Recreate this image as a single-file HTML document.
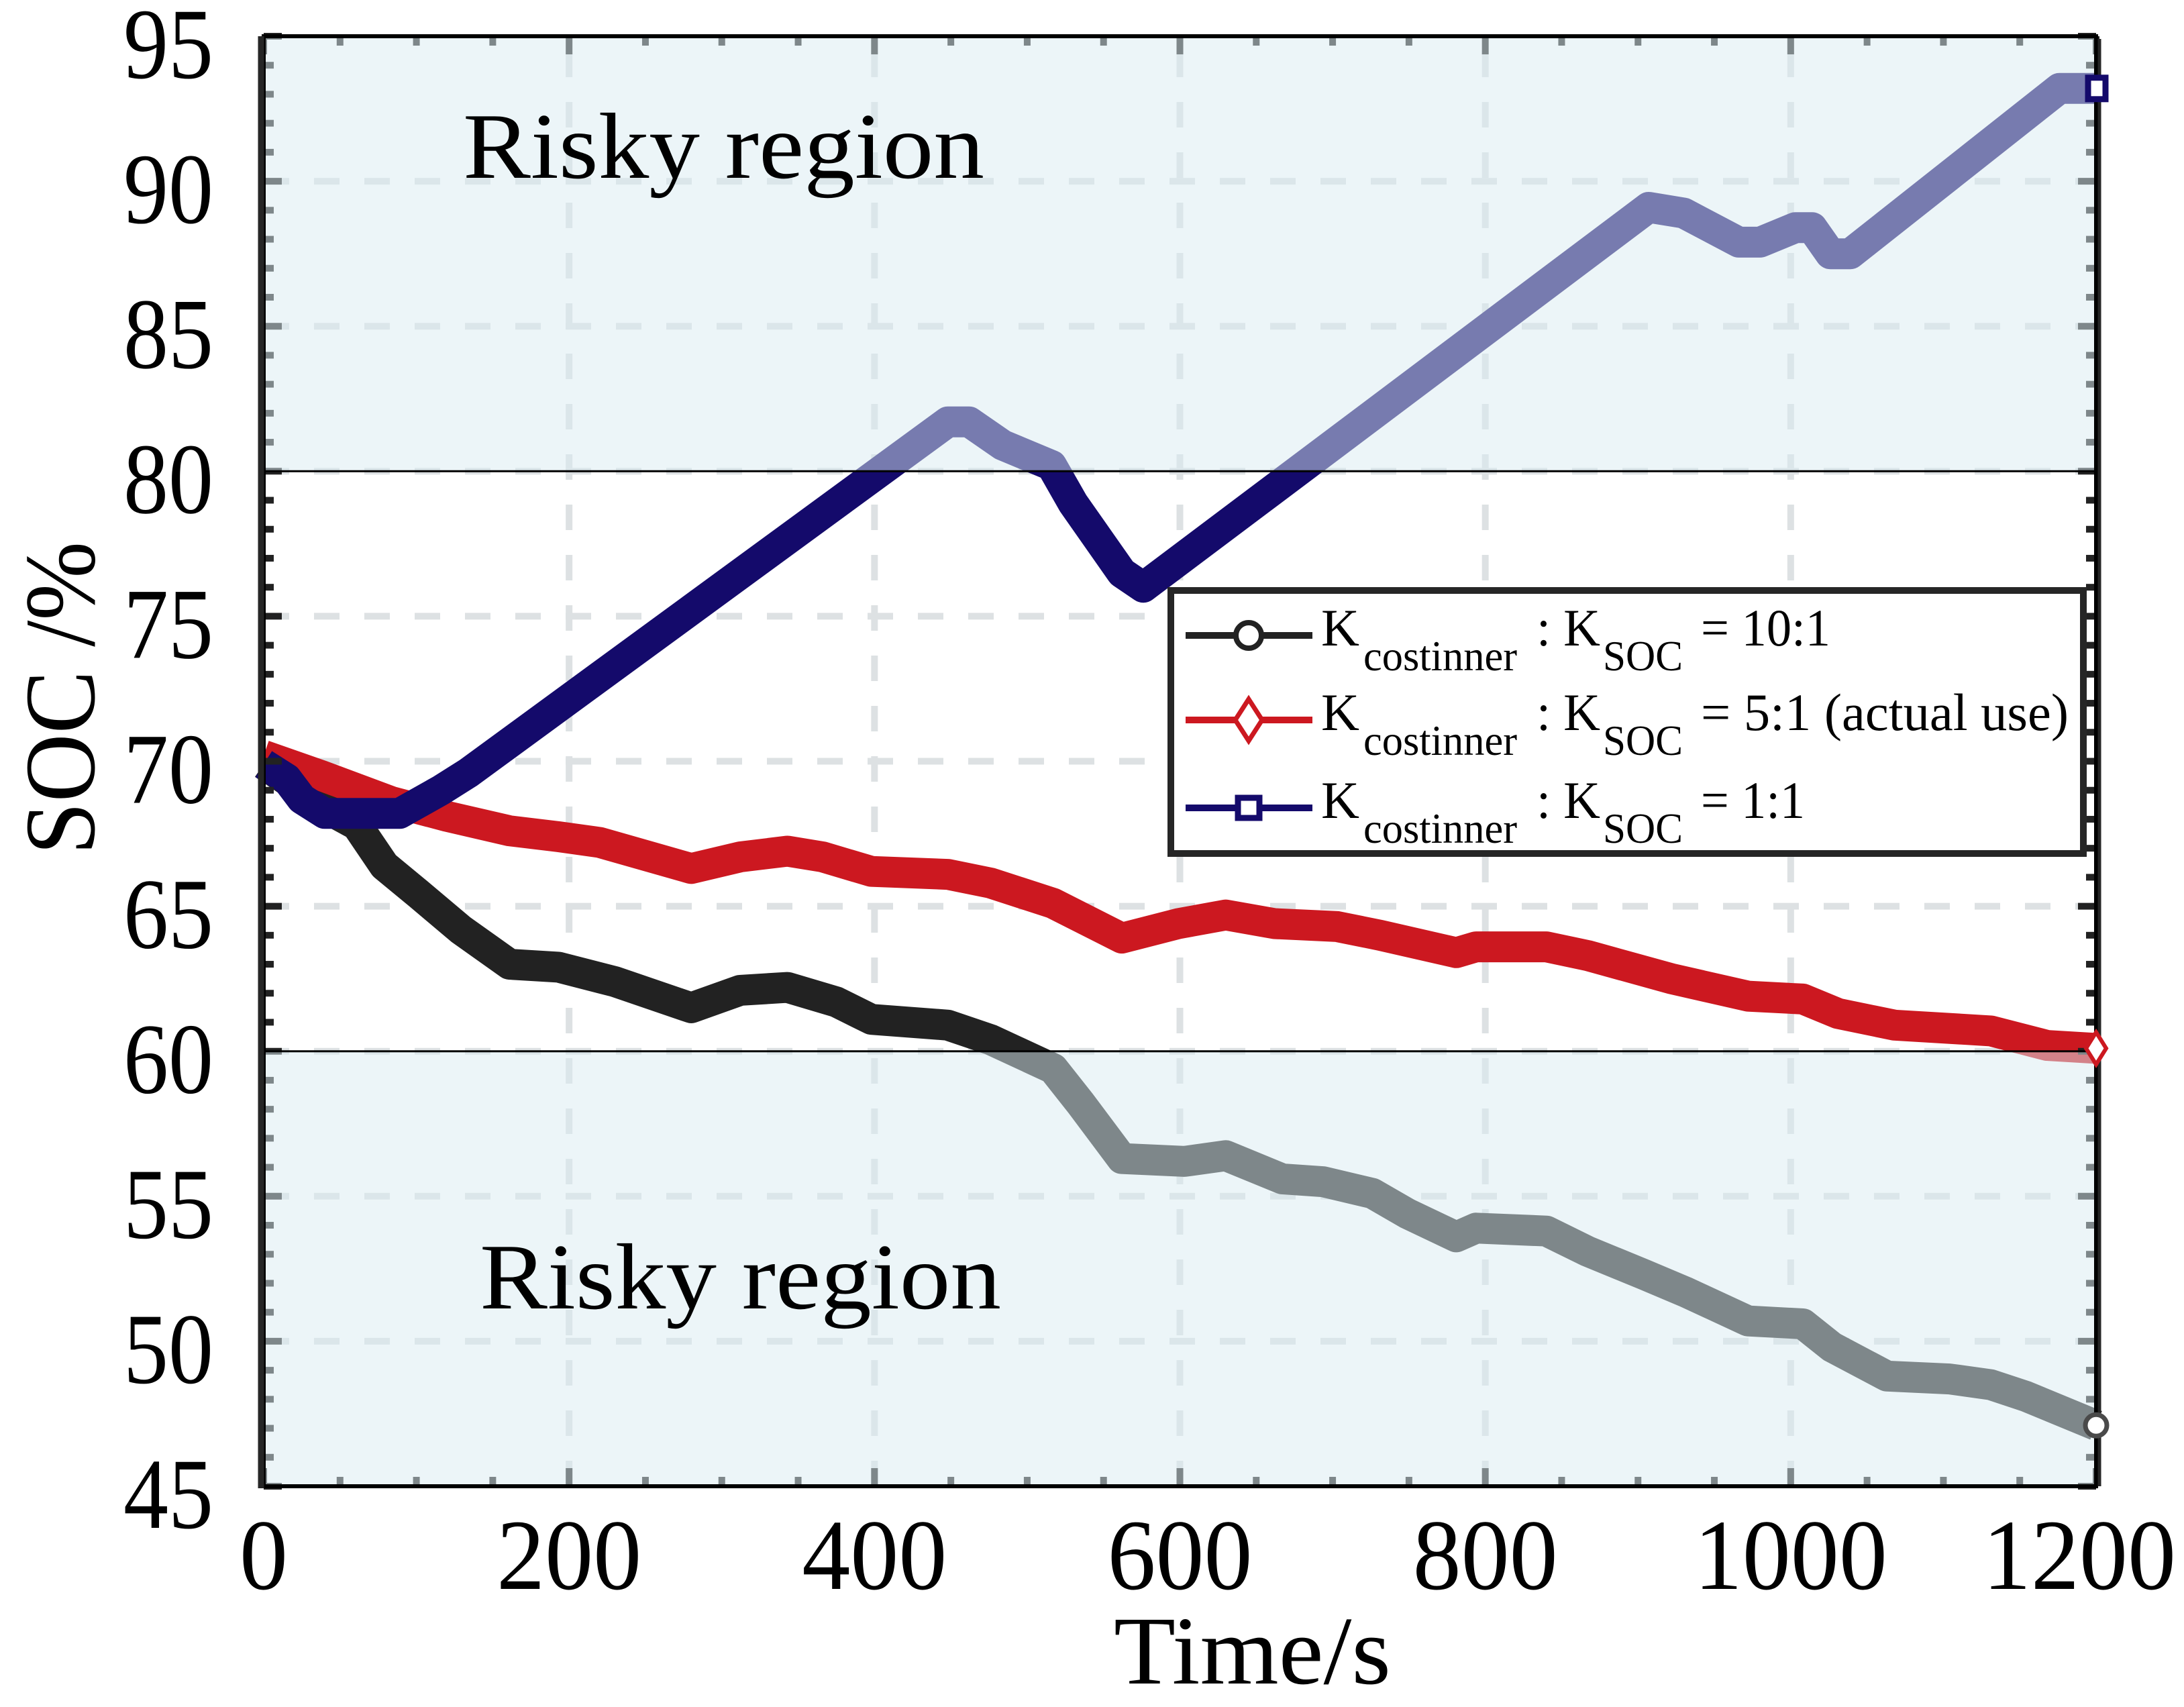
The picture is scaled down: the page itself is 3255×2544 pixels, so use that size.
<!DOCTYPE html>
<html><head><meta charset="utf-8"><style>
html,body{margin:0;padding:0;background:#fff}
svg{display:block}
text{font-family:"Liberation Serif",serif;fill:#000}
</style></head><body>
<svg id="chart" width="3255" height="2544" viewBox="0 0 3255 2544" xmlns="http://www.w3.org/2000/svg">
<rect width="3255" height="2544" fill="#fff"/>
<g id="grid"></g>
<g id="series"></g>
<g id="ticks"></g>
<g id="regions"></g>
<g id="frame"></g>
<g id="markers"></g>
<g id="labels"></g>
<text x="690" y="265" font-size="140" textLength="777" lengthAdjust="spacingAndGlyphs">Risky region</text>
<text x="715" y="1950" font-size="140" textLength="777" lengthAdjust="spacingAndGlyphs">Risky region</text>
<text transform="translate(140,1274) rotate(-90)" x="0" y="0" font-size="150" textLength="467" lengthAdjust="spacingAndGlyphs">SOC /%</text>
<text x="1660" y="2509" font-size="145" textLength="413" lengthAdjust="spacingAndGlyphs">Time/s</text>
<g id="legend">
<rect x="1745" y="880" width="1360" height="392" fill="#fff" stroke="#262626" stroke-width="10"/>
</g>
</svg>
<script>
const xTicks=[0,200,400,600,800,1000,1200];
const yTicks=[45,50,55,60,65,70,75,80,85,90,95];
const riskyLow=60, riskyHigh=80;
const tBlue=[0,15,25,40,61,89,116,134,448,462,484,516,530,562,576,907,930,966,980,1003,1014,1026,1039,1176,1200];
const sBlue=[69.9,69.4,68.7,68.2,68.2,68.2,69.0,69.6,81.7,81.7,80.9,80.2,78.9,76.5,76.0,89.1,88.9,87.9,87.9,88.4,88.4,87.5,87.5,93.2,93.2];
const tBlack=[0,47,61,79,102,129,161,193,230,280,312,343,375,398,448,476,517,535,562,603,630,667,694,726,749,781,794,840,867,904,931,972,1008,1027,1063,1104,1131,1154,1200];
const sBlack=[69.9,68.2,67.8,66.4,65.4,64.2,63.0,62.9,62.4,61.5,62.1,62.2,61.7,61.1,60.9,60.4,59.4,58.2,56.3,56.2,56.4,55.6,55.5,55.1,54.4,53.6,53.9,53.8,53.1,52.3,51.7,50.7,50.6,49.8,48.8,48.7,48.5,48.1,47.1];
const tRed=[0,38,84,120,161,193,220,280,312,343,366,398,448,476,517,562,599,630,662,703,731,781,794,840,867,922,972,1008,1031,1068,1131,1168,1200];
const sRed=[70.2,69.5,68.6,68.1,67.6,67.4,67.2,66.3,66.7,66.9,66.7,66.2,66.1,65.8,65.1,63.9,64.4,64.7,64.4,64.3,64.0,63.4,63.6,63.6,63.3,62.5,61.9,61.8,61.3,60.9,60.7,60.2,60.1];

const X0=393,X1=3124,Y0=2215,Y1=54,XMIN=0,XMAX=1200,YMIN=45,YMAX=95;
const sx=t=>X0+(t-XMIN)/(XMAX-XMIN)*(X1-X0);
const sy=v=>Y0-(v-YMIN)/(YMAX-YMIN)*(Y0-Y1);
const NS='http://www.w3.org/2000/svg';
function mk(tag,parent,attrs){const e=document.createElementNS(NS,tag);for(const k in attrs)e.setAttribute(k,attrs[k]);parent.appendChild(e);return e;}
const G=id=>document.getElementById(id);

xTicks.forEach(t=>{if(t===XMIN||t===XMAX)return;
 const l=mk('line',G('grid'),{x1:sx(t),x2:sx(t),y1:Y0,y2:Y1,stroke:'#dde1e3','stroke-width':10,'stroke-dasharray':'38 37'});
 
 });
yTicks.forEach(v=>{if(v===YMIN||v===YMAX)return;
 const l=mk('line',G('grid'),{x1:X0,x2:X1,y1:sy(v),y2:sy(v),stroke:'#dde1e3','stroke-width':10,'stroke-dasharray':'38 37'});
 
 });

function series(ts,ss,color,name){
 const d=ts.map((t,i)=>(i?'L':'M')+sx(t).toFixed(1)+','+sy(ss[i]).toFixed(1)).join('');
 const p=mk('path',G('series'),{d:d,fill:'none',stroke:color,'stroke-width':46,'stroke-linejoin':'round','stroke-linecap':'butt'});
 
 
}
series(tBlack,sBlack,'#222222','series-10-1');
series(tRed,sRed,'#cc1820','series-5-1');
series(tBlue,sBlue,'#140a6b','series-1-1');

for(let t=XMIN;t<=XMAX;t+=50){const major=t%200===0;const L=major?27:14;
 [[Y0,-1],[Y1,1]].forEach(([y,dir])=>{const l=mk('line',G('ticks'),{x1:sx(t),x2:sx(t),y1:y,y2:y+dir*L,stroke:'#222','stroke-width':10});
 
 });}
for(let v=YMIN;v<=YMAX;v+=1){const major=v%5===0;const L=major?27:15;
 [[X0,1],[X1,-1]].forEach(([x,dir])=>{const l=mk('line',G('ticks'),{x1:x,x2:x+dir*L,y1:sy(v),y2:sy(v),stroke:'#222','stroke-width':10});
 
 });}

const r1=mk('rect',G('regions'),{x:X0,y:Y1,width:X1-X0,height:sy(riskyHigh)-Y1,fill:'rgb(217,235,241)','fill-opacity':0.506});


const r2=mk('rect',G('regions'),{x:X0,y:sy(riskyLow),width:X1-X0,height:Y0-sy(riskyLow),fill:'rgb(217,235,241)','fill-opacity':0.506});


[riskyHigh,riskyLow].forEach(v=>{const l=mk('line',G('regions'),{x1:X0,x2:X1,y1:sy(v),y2:sy(v),stroke:'#000','stroke-width':3});
 
 });

const fr=mk('rect',G('frame'),{x:X0,y:Y1,width:X1-X0,height:Y0-Y1,fill:'none',stroke:'#000','stroke-width':6});


const la=mk('line',G('frame'),{x1:389,x2:389,y1:Y1,y2:Y0+3,stroke:'#262626','stroke-width':9});


const ra=mk('line',G('frame'),{x1:X1+5,x2:X1+5,y1:Y1+4,y2:Y0,stroke:'#262626','stroke-width':5});



const eB=sBlack[sBlack.length-1],eR=sRed[sRed.length-1],eU=sBlue[sBlue.length-1];
const m1=mk('circle',G('markers'),{cx:sx(XMAX),cy:sy(eB),r:16,fill:'#fff',stroke:'#4a4a4a','stroke-width':7});


const m2=mk('path',G('markers'),{d:`M${sx(XMAX)},${sy(eR)-24}l15,24l-15,24l-15,-24z`,fill:'#fff',stroke:'#cc1820','stroke-width':6});


const m3=mk('rect',G('markers'),{x:sx(XMAX)-12,y:sy(eU)-16,width:26,height:32,fill:'#fff',stroke:'#140a6b','stroke-width':9});



xTicks.forEach(t=>{const s=String(t);const shift=(t===XMAX)?-25:0;const e=mk('text',G('labels'),{x:sx(t)+shift,y:2368,'font-size':150,'text-anchor':'middle',textLength:72*s.length,lengthAdjust:'spacingAndGlyphs'});e.textContent=s;
 
 });
yTicks.forEach(v=>{const e=mk('text',G('labels'),{x:318,y:sy(v)+62,'font-size':150,'text-anchor':'end',textLength:134,lengthAdjust:'spacingAndGlyphs'});e.textContent=v;
 
 });

const legRows=[['= 10:1',193,'#222222','circle'],['= 5:1 (actual use)',548,'#cc1820','diamond'],['= 1:1',155,'#140a6b','square']];
const legBase=[962,1088,1219];
legRows.forEach((r,i)=>{const g=G('legend');const b=legBase[i];const cy=b-15;
 const ln=mk('line',g,{x1:1767,x2:1956,y1:cy,y2:cy,stroke:r[2],'stroke-width':10});
 
 
 let m;
 if(r[3]==='circle')m=mk('circle',g,{cx:1861,cy:cy,r:19,fill:'#fff',stroke:r[2],'stroke-width':8});
 else if(r[3]==='diamond')m=mk('path',g,{d:`M1861,${cy-31}l20,31l-20,31l-20,-31z`,fill:'#fff',stroke:r[2],'stroke-width':7});
 else m=mk('rect',g,{x:1845,y:cy-15,width:32,height:30,fill:'#fff',stroke:r[2],'stroke-width':9});
 
 
 const parts=[['K',1969,b,78,57],['costinner',2032,b+37,64,229],[': K',2290,b,78,95],['SOC',2389,b+37,64,119],[r[0],2535,b,78,r[1]]];
 parts.forEach(p=>{const e=mk('text',g,{x:p[1],y:p[2],'font-size':p[3],textLength:p[4],lengthAdjust:'spacingAndGlyphs'});e.textContent=p[0];
  
  });
});
</script>
</body></html>
